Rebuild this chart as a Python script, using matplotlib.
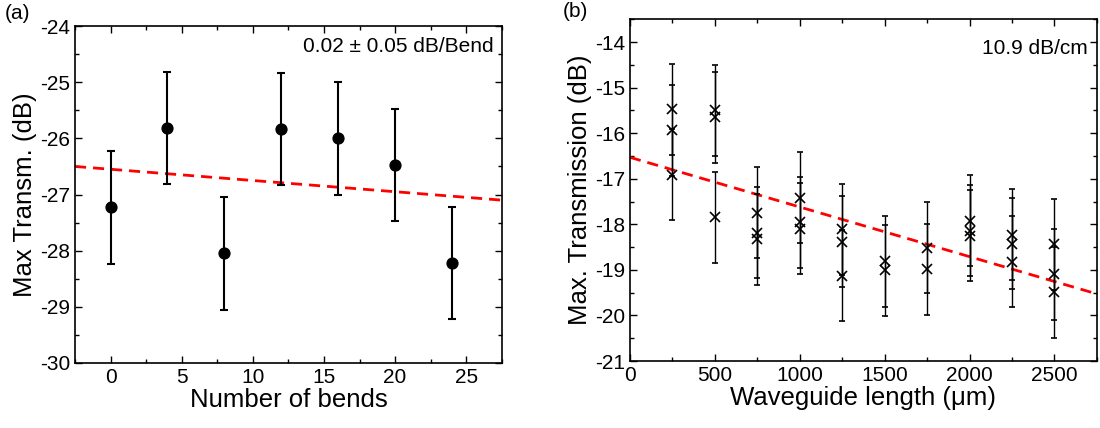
import numpy as np
import matplotlib
matplotlib.use('Agg')
import matplotlib.pyplot as plt
from matplotlib.ticker import MultipleLocator

plt.rcParams['font.family'] = ['Liberation Sans', 'DejaVu Sans']
plt.rcParams['axes.unicode_minus'] = False

# ---- panel (a): transmission vs number of bends
bends = [0, 4, 8, 12, 16, 20, 24]
transm_a = [-27.23, -25.82, -28.05, -25.83, -26.0, -26.47, -28.22]
err_a = [1.0, 1.0, 1.0, 1.0, 1.0, 1.0, 1.0]
fit_a_slope = -0.02     # dB / bend
fit_a_icpt = -26.55

# ---- panel (b): transmission vs waveguide length
length_b = [250, 250, 250, 500, 500, 500, 750, 750, 750, 1000, 1000, 1000,
            1250, 1250, 1250, 1500, 1500, 1750, 1750, 2000, 2000, 2000,
            2250, 2250, 2250, 2500, 2500, 2500]
transm_b = [-15.48, -15.94, -16.91, -15.5, -15.65, -17.85, -17.75, -18.18, -18.33,
            -17.42, -17.96, -18.1, -18.11, -18.38, -19.13, -18.81, -19.01,
            -18.51, -18.99, -17.92, -18.14, -18.25, -18.23, -18.43, -18.82,
            -18.44, -19.1, -19.49]
err_b = [1.0] * len(transm_b)
fit_b_slope = -0.00109  # dB / um  (10.9 dB/cm)
fit_b_icpt = -16.53

fig = plt.figure(figsize=(11, 4.28), dpi=100)
ax1 = fig.add_axes([0.0682, 0.152, 0.388, 0.787])
ax2 = fig.add_axes([0.5727, 0.1565, 0.4245, 0.7985])


def style(ax):
    ax.tick_params(which='both', direction='in', top=True, right=True, labelsize=15, width=1)
    ax.tick_params(which='major', length=5)
    ax.tick_params(which='minor', length=3)
    for s in ax.spines.values():
        s.set_linewidth(1.2)


# (a)
xa = np.array([-2.5, 27.5])
ax1.plot(xa, fit_a_icpt + fit_a_slope * xa, '--', color='red', lw=2, dashes=(4, 2.5))
ax1.errorbar(bends, transm_a, yerr=err_a, fmt='o', color='black', ms=7.8,
             elinewidth=1.5, capsize=3, capthick=1.5)
ax1.set_xlim(-2.5, 27.5)
ax1.set_ylim(-30, -24)
ax1.xaxis.set_major_locator(MultipleLocator(5))
ax1.xaxis.set_minor_locator(MultipleLocator(2.5))
ax1.yaxis.set_major_locator(MultipleLocator(1))
ax1.yaxis.set_minor_locator(MultipleLocator(0.5))
ax1.set_xlabel('Number of bends', fontsize=18.5, labelpad=1)
ax1.set_ylabel('Max Transm. (dB)', fontsize=18.5, labelpad=2)
style(ax1)
ax1.text(0.98, 0.94, '0.02 \u00b1 0.05 dB/Bend', transform=ax1.transAxes,
         ha='right', va='center', fontsize=15)
fig.text(0.004, 0.99, '(a)', fontsize=15, ha='left', va='top')

# (b)
xb = np.array([0, 2750])
ax2.plot(xb, fit_b_icpt + fit_b_slope * xb, '--', color='red', lw=2, dashes=(4, 2.5))
ax2.errorbar(length_b, transm_b, yerr=err_b, fmt='x', color='black', ms=7, mew=1.2,
             elinewidth=1, capsize=2.3, capthick=1)
ax2.set_xlim(0, 2750)
ax2.set_ylim(-21, -13.5)
ax2.xaxis.set_major_locator(MultipleLocator(500))
ax2.xaxis.set_minor_locator(MultipleLocator(250))
ax2.yaxis.set_major_locator(MultipleLocator(1))
ax2.yaxis.set_minor_locator(MultipleLocator(0.5))
ax2.set_xlabel('Waveguide length (\u03bcm)', fontsize=18.5, labelpad=1)
ax2.set_ylabel('Max. Transmission (dB)', fontsize=18.5, labelpad=2)
style(ax2)
ax2.text(0.98, 0.915, '10.9 dB/cm', transform=ax2.transAxes,
         ha='right', va='center', fontsize=15)
fig.text(0.512, 0.995, '(b)', fontsize=15, ha='left', va='top')

fig.savefig('out.png', dpi=100)
